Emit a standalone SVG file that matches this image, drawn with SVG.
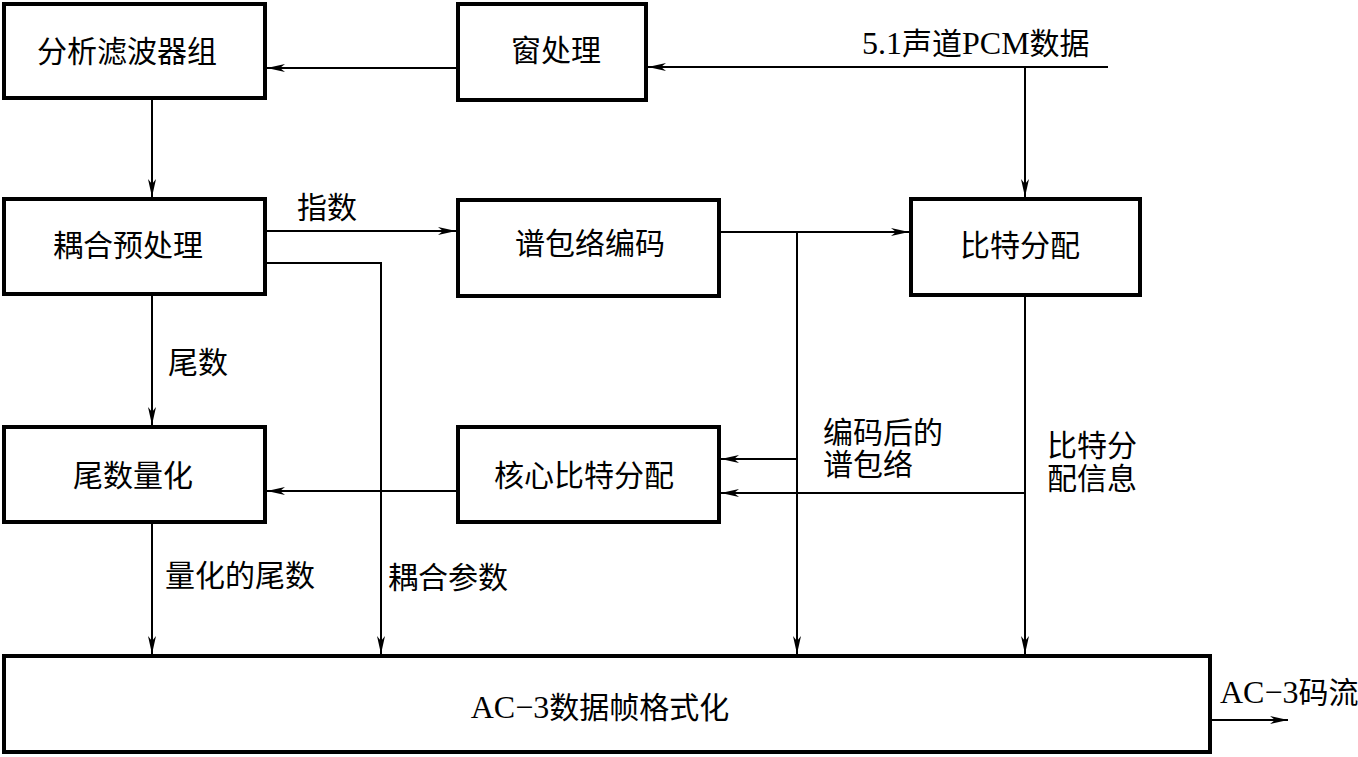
<svg xmlns="http://www.w3.org/2000/svg" width="1358" height="757" viewBox="0 0 1358 757">
<style>
.box{fill:#fff;stroke:#000;stroke-width:4}
.c{fill:none;stroke:#000;stroke-width:2;marker-end:url(#ah)}
text{font-family:"Liberation Serif","Noto Sans CJK SC",serif;font-size:30px;fill:#000;dominant-baseline:central}
.m{text-anchor:middle}
.lat{font-size:32px}
</style>
<defs>
<marker id="ah" markerUnits="userSpaceOnUse" markerWidth="20" markerHeight="10" refX="18" refY="4" orient="auto">
<path d="M0,0 L18,4 L0,8 L5,4 z" fill="#000"/>
</marker>
</defs>
<rect width="1358" height="757" fill="#fff"/>
<g id="connectors">
<path class="c" d="M1108,67 H648"/>
<path class="c" d="M1025,67 V197"/>
<path class="c" d="M458,68 H267"/>
<path class="c" d="M152,98 V197"/>
<path class="c" d="M267,231 H456"/>
<path class="c" d="M721,232 H909"/>
<path class="c" d="M797,232 V654"/>
<path class="c" d="M267,263 H381 V654"/>
<path class="c" d="M152,296 V425"/>
<path class="c" d="M458,491 H267"/>
<path class="c" d="M797,459 H721"/>
<path class="c" d="M1025,297 V654"/>
<path class="c" d="M1025,493 H721"/>
<path class="c" d="M152,524 V654"/>
<path class="c" d="M1212,720 H1288"/>
<text x="862" y="43"><tspan class="lat">5.1</tspan>声道<tspan class="lat">PCM</tspan>数据</text>
<text x="297" y="207">指数</text>
<text x="168" y="362">尾数</text>
<text x="165" y="575">量化的尾数</text>
<text x="388" y="577">耦合参数</text>
<text x="823" y="432">编码后的</text>
<text x="823" y="464">谱包络</text>
<text x="1047" y="445">比特分</text>
<text x="1047" y="478">配信息</text>
<text x="1220" y="692"><tspan class="lat">AC−3</tspan>码流</text>
</g>
<g id="n1"><rect class="box" x="4" y="4" width="261" height="94"/><text class="m" x="127" y="51">分析滤波器组</text></g>
<g id="n2"><rect class="box" x="458" y="4" width="188" height="96"/><text class="m" x="556" y="50">窗处理</text></g>
<g id="n3"><rect class="box" x="4" y="199" width="261" height="95"/><text class="m" x="128" y="245">耦合预处理</text></g>
<g id="n4"><rect class="box" x="458" y="200" width="261" height="96"/><text class="m" x="590" y="243">谱包络编码</text></g>
<g id="n5"><rect class="box" x="911" y="199" width="229" height="96"/><text class="m" x="1020" y="245">比特分配</text></g>
<g id="n6"><rect class="box" x="4" y="427" width="261" height="95"/><text class="m" x="133" y="475">尾数量化</text></g>
<g id="n7"><rect class="box" x="458" y="427" width="261" height="95"/><text class="m" x="584" y="475">核心比特分配</text></g>
<g id="n8"><rect class="box" x="4" y="656" width="1206" height="96"/><text class="m" x="600" y="707"><tspan class="lat">AC−3</tspan>数据帧格式化</text></g>
</svg>
